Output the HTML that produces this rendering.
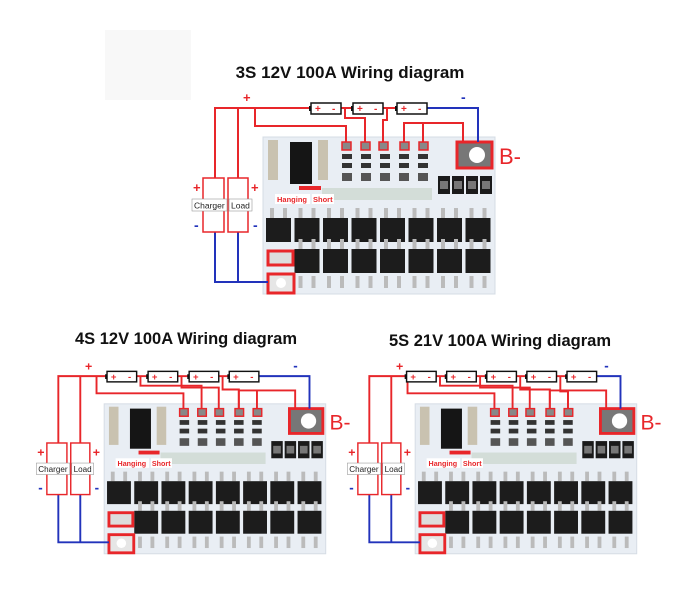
<!DOCTYPE html>
<html><head><meta charset="utf-8"><style>
html,body{margin:0;padding:0;background:#fff}
svg{display:block}
text{font-family:"Liberation Sans",sans-serif}
</style></head><body>
<svg id="s" width="698" height="601" viewBox="0 0 698 601" xmlns="http://www.w3.org/2000/svg">
<rect width="698" height="601" fill="#fff"/>
<rect x="105" y="30" width="86" height="70" fill="#f8f8f8"/>
<text x="350" y="78" font-size="17" font-weight="bold" text-anchor="middle" fill="#111">3S 12V 100A Wiring diagram</text>
<text x="186" y="344" font-size="16.5" font-weight="bold" text-anchor="middle" fill="#111">4S 12V 100A Wiring diagram</text>
<text x="500" y="346" font-size="16.5" font-weight="bold" text-anchor="middle" fill="#111">5S 21V 100A Wiring diagram</text>
<g id="d1"></g><g id="d2" transform="translate(-147,273) scale(0.955)"></g><g id="d3" transform="translate(164,273) scale(0.955)"></g>
</svg>
<script>
function diag(id,bx,bw){
 var R='#e8262a',B='#2233bb',o='';
 var n=bx.length, last=bx[n-1]+bw;
 // board
 o+='<rect x="263" y="137" width="232" height="157" fill="#e9eef4"/>';
 o+='<rect x="263" y="137" width="232" height="157" fill="none" stroke="#d5dce4"/>';
 o+='<rect x="268" y="140" width="10" height="40" fill="#c9c2b0"/><rect x="318" y="140" width="10" height="40" fill="#c9c2b0"/>';
 o+='<rect x="290" y="142" width="22" height="42" fill="#151515"/>';
 for(var i=0;i<5;i++){o+='<rect x="'+(342+i*19)+'" y="154" width="10" height="5" fill="#333"/><rect x="'+(342+i*19)+'" y="163" width="10" height="5" fill="#333"/><rect x="'+(342+i*19)+'" y="173" width="10" height="8" fill="#555"/>';}
 o+='<rect x="322" y="188" width="110" height="12" fill="#c9d6cc" opacity="0.7"/>';
 for(var i=0;i<4;i++){o+='<rect x="'+(438+i*14)+'" y="176" width="12" height="18" fill="#1a1a1a"/><rect x="'+(440+i*14)+'" y="181" width="8" height="8" fill="#777"/>';}
 for(var r=0;r<2;r++)for(var i=0;i<8;i++){
  if(r==1&&i==0)continue;
  var x=266+i*28.5,y=r?249:218;
  o+='<rect x="'+(x+4)+'" y="'+(y-10)+'" width="4" height="10" fill="#bbb"/><rect x="'+(x+17)+'" y="'+(y-10)+'" width="4" height="10" fill="#bbb"/>';
  o+='<rect x="'+x+'" y="'+y+'" width="25" height="24" fill="#1c1c1c"/>';
 }
 for(var i=0;i<8;i++){o+='<rect x="'+(270+i*28.5)+'" y="276" width="4" height="12" fill="#bbb"/><rect x="'+(283+i*28.5)+'" y="276" width="4" height="12" fill="#bbb"/>';}
 o+='<rect x="268" y="251" width="25" height="14" fill="#ddd" stroke="'+R+'" stroke-width="3"/>';
 o+='<rect x="268" y="274" width="26" height="19" fill="#e6e6e6" stroke="'+R+'" stroke-width="3"/><circle cx="281" cy="283" r="5" fill="#fff"/>';
 o+='<rect x="457" y="142" width="35" height="26" fill="#777" stroke="'+R+'" stroke-width="3"/><circle cx="477" cy="155" r="8" fill="#fff"/>';
 o+='<text x="499" y="164" font-size="22" fill="'+R+'">B-</text>';
 o+='<rect x="299" y="186" width="22" height="4" fill="'+R+'"/>';
 o+='<rect x="275" y="194" width="35" height="10" fill="#fff"/><text x="277" y="202" font-size="7.5" font-weight="bold" fill="'+R+'">Hanging</text>';
 o+='<rect x="312" y="194" width="22" height="10" fill="#fff"/><text x="313" y="202" font-size="7.5" font-weight="bold" fill="'+R+'">Short</text>';
 // wires
 var p='fill="none" stroke="'+R+'" stroke-width="2"';
 o+='<polyline points="215,178 215,108 '+bx[0]+',108" '+p+'/>';
 o+='<line x1="238" y1="178" x2="238" y2="108" '+p+'/>';
 o+='<polyline points="255,108 255,126 346,126 346,144" '+p+'/>';
 var pads=[346,365,383,404,423];
 for(var i=0;i<n-1;i++){
  var jx=bx[i]+bw+4;
  o+='<line x1="'+(bx[i]+bw)+'" y1="108" x2="'+bx[i+1]+'" y2="108" '+p+'/>';
  var px=pads[Math.min(i+1,4)];
  o+='<polyline points="'+jx+',108 '+jx+','+(118+i*2)+' '+px+','+(118+i*2)+' '+px+',144" '+p+'/>';
 }
 o+='<polyline points="404,144 404,123 463,123 463,142" '+p+'/>';
 o+='<line x1="423" y1="123" x2="423" y2="144" '+p+'/>';
 for(var i=0;i<5;i++)o+='<rect x="'+(pads[i]-4)+'" y="142" width="9" height="8" fill="#888" stroke="'+R+'" stroke-width="1.5"/>';
 o+='<polyline points="'+last+',108 478,108 478,142" fill="none" stroke="'+B+'" stroke-width="2"/>';
 o+='<polyline points="215,232 215,282 268,282" fill="none" stroke="'+B+'" stroke-width="2"/>';
 o+='<line x1="238" y1="232" x2="238" y2="282" stroke="'+B+'" stroke-width="2"/>';
 for(var i=0;i<n;i++){
  o+='<rect x="'+bx[i]+'" y="103" width="'+bw+'" height="11" fill="#fff" stroke="#111" stroke-width="1.5"/>';
  o+='<rect x="'+(bx[i]-2)+'" y="106" width="2" height="5" fill="#111"/>';
  o+='<text x="'+(bx[i]+4)+'" y="112" font-size="10" font-weight="bold" fill="'+R+'">+</text><text x="'+(bx[i]+bw-9)+'" y="112" font-size="10" font-weight="bold" fill="'+R+'">-</text>';
 }
 o+='<text x="243" y="102" font-size="13" font-weight="bold" fill="'+R+'">+</text>';
 o+='<text x="461" y="102" font-size="14" font-weight="bold" fill="'+B+'">-</text>';
 o+='<rect x="203" y="178" width="21" height="54" fill="#fff" stroke="'+R+'" stroke-width="1.5"/>';
 o+='<rect x="228" y="178" width="20" height="54" fill="#fff" stroke="'+R+'" stroke-width="1.5"/>';
 o+='<rect x="192" y="199" width="35" height="12" fill="#fff" stroke="#999" stroke-width="0.6"/><text x="194" y="208.5" font-size="8.5" fill="#222">Charger</text>';
 o+='<rect x="229" y="199" width="23" height="12" fill="#fff" stroke="#999" stroke-width="0.6"/><text x="231" y="208.5" font-size="8.5" fill="#222">Load</text>';
 o+='<text x="193" y="192" font-size="13" font-weight="bold" fill="'+R+'">+</text><text x="251" y="192" font-size="13" font-weight="bold" fill="'+R+'">+</text>';
 o+='<text x="194" y="230" font-size="14" font-weight="bold" fill="'+B+'">-</text><text x="253" y="230" font-size="14" font-weight="bold" fill="'+B+'">-</text>';
 document.getElementById(id).innerHTML=o;
}
diag('d1',[311,353,397],30);
diag('d2',[266,309,352,394],31);
diag('d3',[254,296,338,380,422],31);
</script>
</body></html>
